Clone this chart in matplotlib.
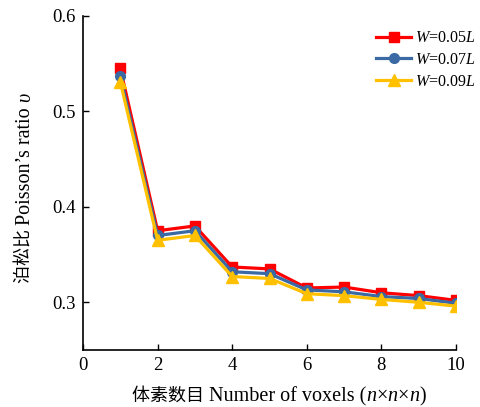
import matplotlib
matplotlib.use('Agg')
import matplotlib.pyplot as plt
from matplotlib.transforms import offset_copy

plt.rcParams['font.family'] = ['Liberation Serif', 'Noto Sans CJK SC']
plt.rcParams['mathtext.fontset'] = 'custom'
plt.rcParams['mathtext.rm'] = 'Liberation Serif'
plt.rcParams['mathtext.it'] = 'Liberation Serif:italic'

voxels = [1, 2, 3, 4, 5, 6, 7, 8, 9, 10]
ratio_005 = [0.545, 0.375, 0.380, 0.337, 0.335, 0.315, 0.316, 0.310, 0.307, 0.302]
ratio_007 = [0.537, 0.370, 0.375, 0.332, 0.330, 0.313, 0.311, 0.306, 0.304, 0.299]
ratio_009 = [0.531, 0.365, 0.370, 0.327, 0.325, 0.309, 0.307, 0.303, 0.300, 0.296]
labels = ['$W$=0.05$L$', '$W$=0.07$L$', '$W$=0.09$L$']

# label pieces: (text, italic, font size)
xlabel_parts = [('体素数目 ', False, 13), ('Number of voxels (', False, 14.5), ('n', True, 14.5),
                ('×', False, 14.5), ('n', True, 14.5), ('×', False, 14.5), ('n', True, 14.5),
                (')', False, 14.5)]
ylabel_parts = [('泊松比 ', False, 13), ('Poisson’s ratio ', False, 14.5), ('υ', True, 14.5)]

fig = plt.figure(figsize=(4.81, 4.07), dpi=100)
ax = fig.add_axes([0.1726, 0.140, 0.7754, 0.8207])

ax.plot(voxels, ratio_005, color='#ff0000', marker='s', markersize=7, lw=2.3, label=labels[0])
ax.plot(voxels, ratio_007, color='#3a69a3', marker='o', markersize=7, lw=2.3, label=labels[1])
ax.plot(voxels, ratio_009, color='#ffc000', marker='^', markersize=8, lw=2.3, label=labels[2])

ax.set_xlim(0, 10)
ax.set_ylim(0.25, 0.6)
ax.set_xticks([0, 2, 4, 6, 8, 10])
ax.set_yticks([0.3, 0.4, 0.5, 0.6])
ax.set_yticklabels(['0.3', '0.4', '0.5', '0.6'])
ax.tick_params(direction='in', labelsize=13.5, length=4, width=1, pad=5)
ax.spines['top'].set_visible(False)
ax.spines['right'].set_visible(False)
for s in ['left', 'bottom']:
    ax.spines[s].set_linewidth(1.2)

ax.legend(loc='upper right', bbox_to_anchor=(1.09, 1.0), frameon=False,
          fontsize=11.5, handlelength=2.2, labelspacing=0.35, handletextpad=0.2)


def rich_label(parts, x, y, rotation):
    # lay pieces end to end, centred on figure fraction (x, y)
    fig.canvas.draw()
    r = fig.canvas.get_renderer()
    texts = []
    total = 0
    for s, it, size in parts:
        t = fig.text(0, 0, s, fontsize=size, style='italic' if it else 'normal',
                     rotation=rotation, rotation_mode='anchor', ha='left', va='baseline')
        bb = t.get_window_extent(r)
        w = bb.width if rotation == 0 else bb.height
        texts.append((t, w))
        total += w
    pos = -total / 2
    for t, w in texts:
        if rotation == 0:
            t.set_transform(offset_copy(fig.transFigure, fig, x=pos, y=0, units='dots'))
        else:
            t.set_transform(offset_copy(fig.transFigure, fig, x=0, y=pos, units='dots'))
        t.set_position((x, y))
        pos += w


rich_label(xlabel_parts, 279 / 481, 1 - 401 / 407, 0)
rich_label(ylabel_parts, 30 / 481, 1 - 188 / 407, 90)

plt.savefig('out.png', dpi=100)
